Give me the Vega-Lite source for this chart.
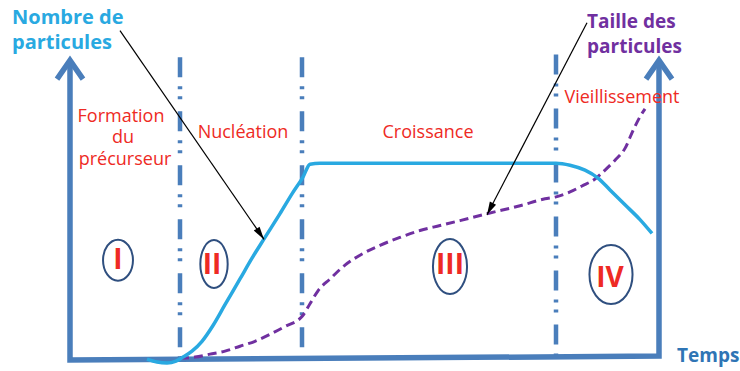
{
  "$schema": "https://vega.github.io/schema/vega-lite/v6.json",
  "width": 740,
  "height": 371,
  "autosize": {"type": "fit", "contains": "padding"},
  "padding": 0,
  "background": "white",
  "config": {"view": {"stroke": null}},
  "datasets": {
    "dividers": [
      {"x": 180, "y": 313, "y2": 9},
      {"x": 302, "y": 313, "y2": 9},
      {"x": 556, "y": 316, "y2": 9}
    ],
    "frame": [
      {"part": "axes", "ord": 1, "x": 70, "y": 309},
      {"part": "axes", "ord": 2, "x": 70, "y": 7},
      {"part": "axes", "ord": 3, "x": 659, "y": 11},
      {"part": "axes", "ord": 4, "x": 659, "y": 309},
      {"part": "leftHead", "ord": 1, "x": 57, "y": 291},
      {"part": "leftHead", "ord": 2, "x": 70, "y": 310},
      {"part": "leftHead", "ord": 3, "x": 83, "y": 291},
      {"part": "rightHead", "ord": 1, "x": 646, "y": 291},
      {"part": "rightHead", "ord": 2, "x": 659, "y": 310},
      {"part": "rightHead", "ord": 3, "x": 672, "y": 291}
    ],
    "nombre": [
      {"x": 147, "y": 8}, {"x": 157, "y": 5}, {"x": 167, "y": 4}, {"x": 176, "y": 6},
      {"x": 183, "y": 10}, {"x": 192, "y": 16}, {"x": 202, "y": 26}, {"x": 213, "y": 42},
      {"x": 225, "y": 63}, {"x": 240, "y": 89}, {"x": 252, "y": 110}, {"x": 265, "y": 131},
      {"x": 280, "y": 155}, {"x": 292, "y": 175}, {"x": 303, "y": 192}, {"x": 310, "y": 205},
      {"x": 320, "y": 206}, {"x": 556, "y": 206}, {"x": 570, "y": 204}, {"x": 585, "y": 199},
      {"x": 598, "y": 191}, {"x": 610, "y": 179}, {"x": 625, "y": 164}, {"x": 640, "y": 149},
      {"x": 652, "y": 135}
    ],
    "taille": [
      {"x": 180, "y": 9}, {"x": 195, "y": 10}, {"x": 210, "y": 13}, {"x": 225, "y": 16},
      {"x": 240, "y": 21}, {"x": 255, "y": 26}, {"x": 270, "y": 33}, {"x": 285, "y": 41},
      {"x": 302, "y": 51}, {"x": 310, "y": 64}, {"x": 318, "y": 77}, {"x": 330, "y": 89},
      {"x": 345, "y": 103}, {"x": 360, "y": 113}, {"x": 380, "y": 123}, {"x": 400, "y": 131},
      {"x": 420, "y": 138}, {"x": 440, "y": 143}, {"x": 460, "y": 148}, {"x": 487, "y": 155},
      {"x": 520, "y": 163}, {"x": 545, "y": 170}, {"x": 556, "y": 172}, {"x": 570, "y": 177},
      {"x": 582, "y": 183}, {"x": 595, "y": 190}, {"x": 605, "y": 199}, {"x": 615, "y": 209},
      {"x": 625, "y": 221}, {"x": 633, "y": 239}, {"x": 640, "y": 253}, {"x": 645, "y": 261}
    ],
    "pointers": [
      {"x": 120, "y": 340, "x2": 264, "y2": 129},
      {"x": 587, "y": 348, "x2": 487, "y2": 154}
    ],
    "phases": [
      {"label": "Formation", "x": 121, "y": 248},
      {"label": "du", "x": 123, "y": 226},
      {"label": "précurseur", "x": 125, "y": 204},
      {"label": "Nucléation", "x": 243, "y": 231},
      {"label": "Croissance", "x": 428, "y": 232},
      {"label": "Vieillissement", "x": 622, "y": 267}
    ],
    "numerals": [
      {"label": "I", "x": 118, "y": 99},
      {"label": "II", "x": 212, "y": 94},
      {"label": "III", "x": 450, "y": 94},
      {"label": "IV", "x": 610, "y": 81}
    ]
  },
  "encoding": {
    "x": {"field": "x", "type": "quantitative", "scale": {"domain": [0, 740], "nice": false, "zero": false}, "axis": null},
    "y": {"field": "y", "type": "quantitative", "scale": {"domain": [0, 371], "nice": false, "zero": false}, "axis": null}
  },
  "layer": [
    {
      "data": {"name": "dividers"},
      "mark": {"type": "rule", "color": "#4a7ebb", "strokeWidth": 4.5, "strokeDash": [20, 9, 3, 7, 3, 12]},
      "encoding": {"y2": {"field": "y2"}}
    },
    {
      "data": {"name": "frame"},
      "mark": {"type": "line", "color": "#4a7ebb", "strokeWidth": 5.5, "strokeJoin": "miter"},
      "encoding": {"detail": {"field": "part"}, "order": {"field": "ord"}}
    },
    {
      "data": {"name": "taille"},
      "mark": {"type": "line", "color": "#7030a0", "strokeWidth": 3, "strokeDash": [9, 5], "interpolate": "monotone"},
      "encoding": {}
    },
    {
      "data": {"name": "nombre"},
      "mark": {"type": "line", "color": "#29a9e1", "strokeWidth": 3.5, "interpolate": "monotone"},
      "encoding": {}
    },
    {
      "data": {"name": "pointers"},
      "mark": {"type": "rule", "color": "black", "strokeWidth": 1.2},
      "encoding": {"x2": {"field": "x2"}, "y2": {"field": "y2"}}
    },
    {
      "data": {"values": [{"x": 264, "y": 129}]},
      "mark": {"type": "point", "shape": "M0,0L-0.35,1.3L0.35,1.3Z", "size": 400, "angle": 145.7, "filled": true, "color": "black", "opacity": 1}
    },
    {
      "data": {"values": [{"x": 487, "y": 154}]},
      "mark": {"type": "point", "shape": "M0,0L-0.35,1.3L0.35,1.3Z", "size": 400, "angle": 207.3, "filled": true, "color": "black", "opacity": 1}
    },
    {
      "data": {"values": [{"x": 118, "y": 108}]},
      "mark": {"type": "point", "shape": "M0,-1C0.403,-1 0.73,-0.552 0.73,0C0.73,0.552 0.403,1 0,1C-0.403,1 -0.73,0.552 -0.73,0C-0.73,-0.552 -0.403,-1 0,-1Z", "size": 1681, "filled": false, "color": "#2f4f7f", "strokeWidth": 2, "opacity": 1}
    },
    {
      "data": {"values": [{"x": 214, "y": 104}]},
      "mark": {"type": "point", "shape": "M0,-1C0.315,-1 0.57,-0.552 0.57,0C0.57,0.552 0.315,1 0,1C-0.315,1 -0.57,0.552 -0.57,0C-0.57,-0.552 -0.315,-1 0,-1Z", "size": 2304, "filled": false, "color": "#2f4f7f", "strokeWidth": 2, "opacity": 1}
    },
    {
      "data": {"values": [{"x": 450, "y": 101.5}]},
      "mark": {"type": "point", "shape": "M0,-1C0.342,-1 0.62,-0.552 0.62,0C0.62,0.552 0.342,1 0,1C-0.342,1 -0.62,0.552 -0.62,0C-0.62,-0.552 -0.342,-1 0,-1Z", "size": 3025, "filled": false, "color": "#2f4f7f", "strokeWidth": 2, "opacity": 1}
    },
    {
      "data": {"values": [{"x": 611, "y": 93.5}]},
      "mark": {"type": "point", "shape": "M0,-1C0.403,-1 0.73,-0.552 0.73,0C0.73,0.552 0.403,1 0,1C-0.403,1 -0.73,0.552 -0.73,0C-0.73,-0.552 -0.403,-1 0,-1Z", "size": 3481, "filled": false, "color": "#2f4f7f", "strokeWidth": 2, "opacity": 1}
    },
    {
      "data": {"name": "numerals"},
      "mark": {"type": "text", "align": "center", "baseline": "alphabetic", "font": "Open Sans", "fontSize": 28, "fontWeight": "bold", "color": "#ee2a24"},
      "encoding": {"text": {"field": "label"}}
    },
    {
      "data": {"name": "phases"},
      "mark": {"type": "text", "align": "center", "baseline": "alphabetic", "font": "Open Sans", "fontSize": 18, "color": "#ee2a24"},
      "encoding": {"text": {"field": "label"}}
    },
    {
      "data": {"values": [{"label": "Nombre de", "x": 12, "y": 347}, {"label": "particules", "x": 12, "y": 321}]},
      "mark": {"type": "text", "align": "left", "baseline": "alphabetic", "font": "Open Sans", "fontSize": 20, "fontWeight": "bold", "color": "#29a9e1"},
      "encoding": {"text": {"field": "label"}}
    },
    {
      "data": {"values": [{"label": "Taille des", "x": 587, "y": 343}, {"label": "particules", "x": 587, "y": 317}]},
      "mark": {"type": "text", "align": "left", "baseline": "alphabetic", "font": "Open Sans", "fontSize": 19, "fontWeight": "bold", "color": "#7030a0"},
      "encoding": {"text": {"field": "label"}}
    },
    {
      "data": {"values": [{"label": "Temps", "x": 677, "y": 5}]},
      "mark": {"type": "text", "align": "left", "baseline": "alphabetic", "font": "Open Sans", "fontSize": 19, "fontWeight": "bold", "color": "#2f75b5"},
      "encoding": {"text": {"field": "label"}}
    }
  ]
}
